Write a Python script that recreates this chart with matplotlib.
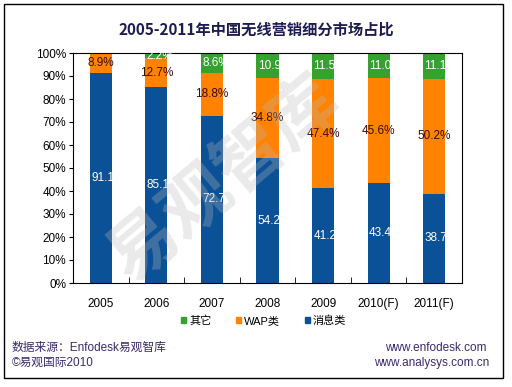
import matplotlib.pyplot as plt
import matplotlib.patches as mpatches
import numpy as np

plt.rcParams['font.family'] = ['Liberation Sans', 'Noto Sans CJK SC', 'DejaVu Sans']

years = ['2005', '2006', '2007', '2008', '2009', '2010(F)', '2011(F)']
msg = [91.1, 85.1, 72.7, 54.2, 41.2, 43.4, 38.7]
wap = [8.9, 12.7, 18.8, 34.8, 47.4, 45.6, 50.2]
other = [0.0, 2.2, 8.6, 10.9, 11.5, 11.0, 11.1]

c_msg = '#0B5197'
c_wap = '#FF8200'
c_other = '#35A230'
txt = '#3B2A6B'

fig = plt.figure(figsize=(5.12, 3.87), dpi=100)
ax = fig.add_axes([73/512, 1-283/387, (462-73)/512, (283-53)/387])

x = np.arange(len(years))
w = 0.4
msg_a = np.array(msg)
wap_a = np.array(wap)
oth_a = np.array(other)
ax.bar(x, msg_a, w, color=c_msg, zorder=2)
ax.bar(x, wap_a, w, bottom=msg_a, color=c_wap, zorder=2)
ax.bar(x, oth_a, w, bottom=msg_a + wap_a, color=c_other, zorder=2)

for i in range(len(years)):
    # white labels: the '%' runs past the bar onto the white background
    ax.annotate('%.1f%%' % msg[i], (x[i] - w/2, msg[i]/2), xytext=(1, 0),
                textcoords='offset points', ha='left', va='center',
                color='white', fontsize=8.5, zorder=3)
    ax.text(x[i], msg[i] + wap[i]/2, '%.1f%%' % wap[i], ha='center', va='center',
            color='#3A0A0A', fontsize=8.5, zorder=3)
    if other[i] > 0:
        ax.annotate('%.1f%%' % other[i], (x[i] - w/2, msg[i] + wap[i] + other[i]/2),
                    xytext=(1, 0), textcoords='offset points', ha='left', va='center',
                    color='white', fontsize=8.5, zorder=3)

ax.set_xlim(-0.5, len(years) - 0.5)
ax.set_ylim(0, 100)
ax.set_yticks(np.arange(0, 101, 10))
ax.set_yticklabels(['%d%%' % v for v in range(0, 101, 10)], fontsize=8.5)
ax.set_xticks(x)
ax.set_xticklabels(years, fontsize=8.5)
ax.tick_params(axis='x', length=0, pad=11)
ax.set_xticks(np.arange(0.5, len(years) - 0.5, 1), minor=True)
ax.tick_params(axis='x', which='minor', direction='in', length=4)
ax.tick_params(axis='y', direction='out', length=3, pad=2)
for s in ax.spines.values():
    s.set_linewidth(0.8)

# watermark
fig.text(225/512, 1-180/387, '易观智库', fontsize=50, rotation=40, color='#BBBBBB', alpha=0.3,
         ha='center', va='center', family='Noto Sans CJK SC', weight='bold', zorder=5)

fig.text(0.5, 1-30/387, '2005-2011年中国无线营销细分市场占比', ha='center', va='center',
         fontsize=11, weight='bold', color='#1C1C50', family=['Noto Sans CJK SC'])

handles = [mpatches.Patch(color=c_other, label='其它'),
           mpatches.Patch(color=c_wap, label='WAP类'),
           mpatches.Patch(color=c_msg, label='消息类')]
fig.legend(handles=handles, loc='center', bbox_to_anchor=(0.515, 1-321/387), ncol=3,
           frameon=False, fontsize=8, handlelength=0.45, handleheight=0.45,
           columnspacing=2.2, handletextpad=0.3)

fig.text(12/512, 1-348/387, '数据来源：Enfodesk易观智库', fontsize=8.5, color=txt,
         va='center', ha='left')
fig.text(12/512, 1-363/387, '©易观国际2010', fontsize=8.5, color=txt, va='center', ha='left')
fig.text(487/512, 1-348/387, 'www.enfodesk.com', fontsize=8.5, color=txt, va='center', ha='right')
fig.text(489/512, 1-363/387, 'www.analysys.com.cn', fontsize=8.5, color=txt, va='center', ha='right')

fig.patches.append(mpatches.Rectangle((4/512, 1-378/387), 499/512, 374/387,
                                      transform=fig.transFigure, fill=False,
                                      edgecolor='black', linewidth=1))

fig.savefig('out.png', dpi=100)
